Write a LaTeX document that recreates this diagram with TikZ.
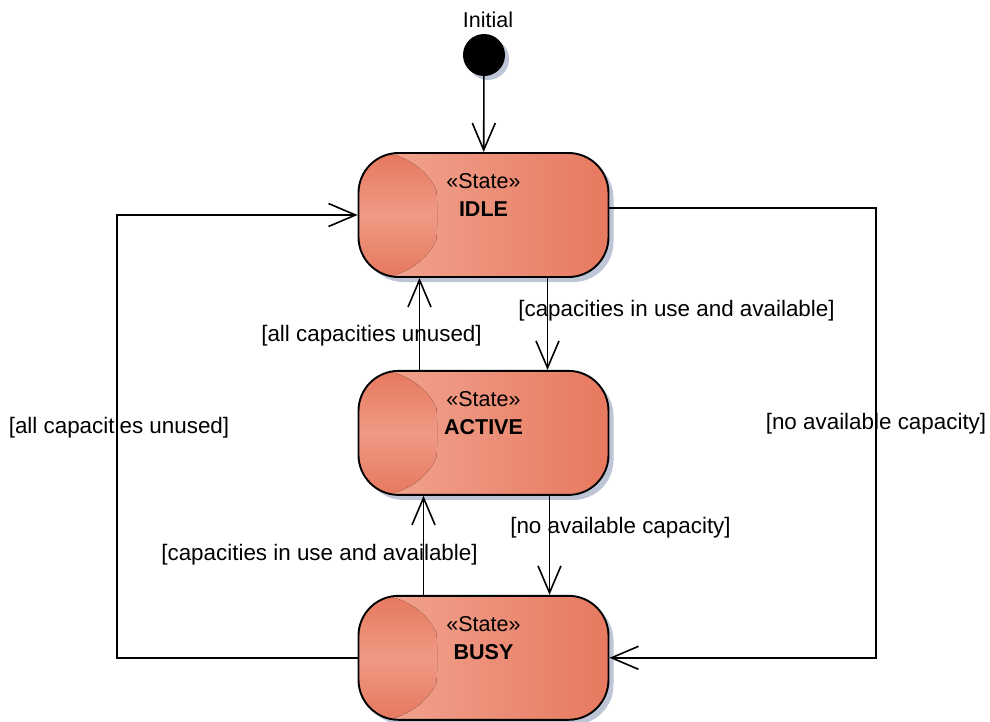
\documentclass[tikz,border=0pt]{standalone}
\usepackage{fontspec}
\setmainfont{Liberation Sans}
\usepackage{xcolor}
\usepackage{tikz}
\usetikzlibrary{arrows.meta, positioning, shadows, calc}
\definecolor{salmonlight}{RGB}{242,168,148}
\definecolor{salmondark}{RGB}{231,121,96}
\definecolor{bandmid}{RGB}{239,154,132}
\definecolor{bandedge}{RGB}{230,120,95}
\definecolor{shadowblue}{RGB}{190,197,214}
\newcommand{\stateinfo}[1]{\raisebox{12.5pt}[0pt][0pt]{\begin{tabular}{c}«State»\\\textbf{#1}\end{tabular}}}
\tikzset{
    state/.style = {rectangle, draw=black, line width=1.9pt, rounded corners=40pt, minimum width=250pt, minimum height=124pt, inner sep=0pt,
        left color=salmonlight, right color=salmondark,
        drop shadow={shadow xshift=5pt, shadow yshift=-5pt, fill=shadowblue, opacity=1},
        path picture={
            \fill[top color=bandedge, bottom color=bandedge, middle color=bandmid]
                (path picture bounding box.north west) -- ([xshift=62pt]path picture bounding box.north west)
                .. controls +(17pt,-40pt) and +(17pt,40pt) .. ([xshift=62pt]path picture bounding box.south west)
                -- (path picture bounding box.south west) -- cycle;
        }},
    initial/.style = {circle, fill=black, minimum size=42pt, inner sep=0pt, drop shadow={shadow xshift=4pt, shadow yshift=-4pt, fill=shadowblue, opacity=1}},
    guard/.style = {inner sep=1pt, font=\fontsize{22.4}{28}\selectfont},
    arrow/.style = {line width=1.6pt, -{Straight Barb[length=27pt, width=23pt]}}
}

\begin{document}
\begin{tikzpicture}[x=1pt, y=-1pt, node distance=92pt, font=\fontsize{21.5}{28}\selectfont]
\useasboundingbox (0,0) rectangle (990,722);

% Nodes
\node (init) [initial] at (484,55) {};
\node (initlabel) [above=6pt of init, xshift=4pt, inner sep=0pt] {Initial};
\node (idle) [state] at (483.5,215) {\stateinfo{IDLE}};
\node (active) [state, below=of idle] {\stateinfo{ACTIVE}};
\node (busy) [state, below=99pt of active] {\stateinfo{BUSY}};

\coordinate (leftrail) at (117,0);
\coordinate (rightrail) at (876,0);

% Arrows
\draw [arrow] (init) -- (idle);
\draw [arrow] ([xshift=64pt]idle.south) -- node (g1) [guard, pos=0.36, xshift=129pt] {[capacities in use and available]} ([xshift=64pt]active.north);
\draw [arrow] ([xshift=-64pt]active.north) -- node (g2) [guard, pos=0.37, xshift=-48pt] {[all capacities unused]} ([xshift=-64pt]idle.south);
\draw [arrow] ([xshift=66pt]active.south) -- node (g3) [guard, pos=0.32, xshift=71pt] {[no available capacity]} ([xshift=66pt]busy.north);
\draw [arrow] ([xshift=-60pt]busy.north) -- node (g4) [guard, pos=0.41, xshift=-104pt] {[capacities in use and available]} ([xshift=-60pt]active.south);
\draw [arrow] (busy.west) -- (busy.west -| leftrail) |- node (g5) [guard, pos=0.26, xshift=2pt] {[all capacities unused]} (idle.west);
\draw [arrow] ([yshift=7pt]idle.east) -| node (g6) [guard, pos=0.74] {[no available capacity]} (rightrail |- busy.east) -- (busy.east);

\end{tikzpicture}
\end{document}
